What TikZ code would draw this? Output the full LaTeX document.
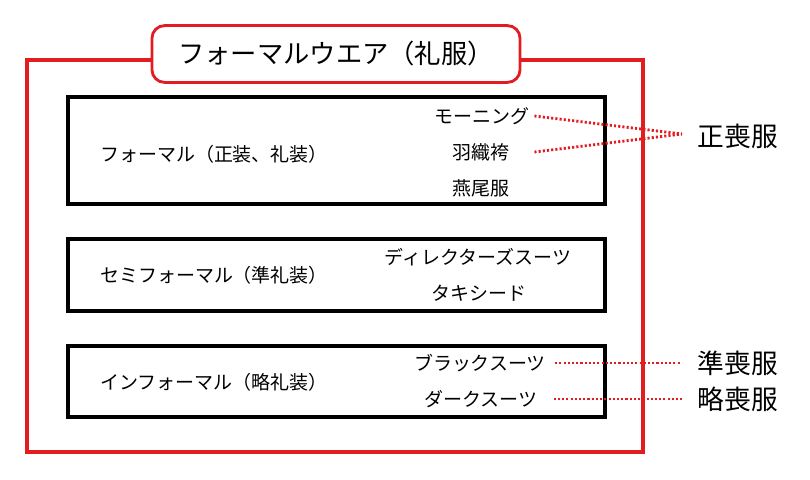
\documentclass[tikz,border=0pt]{standalone}
\usepackage{fontspec}
\setmainfont{Noto Sans CJK JP}
\definecolor{framered}{RGB}{226,28,32}
\usetikzlibrary{positioning}

\tikzset{
  grouplabel/.style={font=\fontsize{13.5}{16}\selectfont},
  dresstext/.style={font=\fontsize{13.5}{16}\selectfont},
  mourning/.style={font=\fontsize{19}{22}\selectfont},
  grouprule/.style={line width=2.7pt, black},
  tiedot/.style={framered, line width=2pt, dash pattern=on 1.5pt off 1.5pt}
}

\begin{document}
\begin{tikzpicture}[x=0.025cm, y=-0.025cm]
        \useasboundingbox (0,0) rectangle (810,480);

        %%% OUTER FRAME

        \draw[framered, line width=2.6pt] (27,60) rectangle (643,452);
        \node[draw=framered, line width=2pt, fill=white, rounded corners=9pt,
              minimum width=9.2cm, minimum height=1.42cm,
              font=\fontsize{18.7}{22}\selectfont] (title) at (336,54) {フォーマルウエア（礼服）};

        %%% GROUP BOXES

        % Formal
        \draw[grouprule] (68,97) rectangle (605,204);
        \node[grouplabel] (formal) at (214,154) {フォーマル（正装、礼装）};
        \node[dresstext] (morning) at (482,116) {モーニング};
        \node[dresstext] (haori) at (481,152) {羽織袴};
        \node[dresstext] (tailcoat) at (481,188) {燕尾服};

        % Semi-formal
        \draw[grouprule] (68,239) rectangle (605,311);
        \node[grouplabel] (semiformal) at (214,275) {セミフォーマル（準礼装）};
        \node[dresstext] (director) at (478,257) {ディレクターズスーツ};
        \node[dresstext] (tuxedo) at (479,293) {タキシード};

        % Informal
        \draw[grouprule] (68,346) rectangle (605,417);
        \node[grouplabel] (informal) at (214,382) {インフォーマル（略礼装）};
        \node[dresstext] (blacksuit) at (480,363) {ブラックスーツ};
        \node[dresstext] (darksuit) at (481,399) {ダークスーツ};

        %%% MOURNING LABELS (right)

        \node[mourning] (seiso) at (738,136) {正喪服};
        \node[mourning] (junso) at (738,363) {準喪服};
        \node[mourning] (ryakuso) at (738,399) {略喪服};
        \coordinate (meet) at (682,134);

        % Dotted ties
        \draw[tiedot] (morning.east) -- (meet);
        \draw[tiedot] (morning.east |- haori) -- (meet);
        \draw[tiedot, shorten <=3pt, shorten >=8pt] (blacksuit.east) -- (blacksuit.east -| junso.west);
        \draw[tiedot, shorten <=8pt, shorten >=8pt] (darksuit.east) -- (darksuit.east -| ryakuso.west);

\end{tikzpicture}
\end{document}
